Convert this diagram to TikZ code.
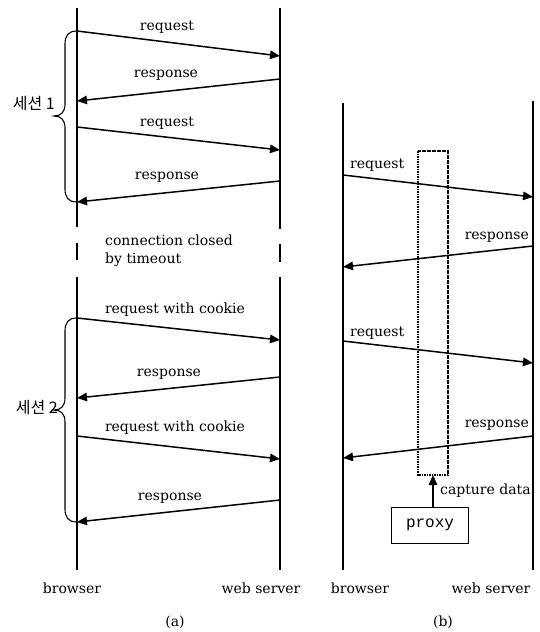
\documentclass[tikz,border=0pt]{standalone}
\usepackage{fontspec}
\setmainfont{DejaVu Serif}
\setmonofont{Liberation Mono}
\newfontfamily\kofont{Noto Sans CJK KR}
\usetikzlibrary{arrows.meta}
\begin{document}
\begin{tikzpicture}[x=1pt,y=-1pt,
  life/.style={line width=1.7pt},
  msg/.style={line width=1.5pt,-{Triangle[length=10pt,width=8.5pt]}},
  lbl/.style={font=\fontsize{14}{16}\selectfont,inner sep=0pt,anchor=base},
  lblL/.style={lbl,anchor=base west},
  lblR/.style={lbl,anchor=base east},
  brc/.style={line width=1.1pt},
  capbox/.style={line width=1.8pt,dash pattern=on 1.6pt off 0.9pt},
  proxybox/.style={draw,line width=0.8pt,minimum width=77pt,minimum height=36pt,font=\ttfamily\fontsize{16}{18}\selectfont}
]
\useasboundingbox (0,0) rectangle (539,632);
% ---------- (a) ----------
\coordinate (ab0) at (77,8);   \coordinate (ab1) at (77,227);
\coordinate (ab2) at (77,243); \coordinate (ab3) at (77,260);
\coordinate (ab4) at (77,277); \coordinate (ab5) at (77,570);
\coordinate (as0) at (280,8);  \coordinate (as1) at (280,229);
\coordinate (as2) at (280,244); \coordinate (as3) at (280,262);
\coordinate (as4) at (280,277); \coordinate (as5) at (280,570);
\draw[life] (ab0) -- (ab1) (ab2) -- (ab3) (ab4) -- (ab5);
\draw[life] (as0) -- (as1) (as2) -- (as3) (as4) -- (as5);
% messages
\coordinate (m1a) at (77,31);  \coordinate (m1b) at (280,56);
\coordinate (m2a) at (280,79); \coordinate (m2b) at (77,101);
\coordinate (m3a) at (77,127); \coordinate (m3b) at (280,150);
\coordinate (m4a) at (280,181); \coordinate (m4b) at (77,202);
\coordinate (m5a) at (77,318); \coordinate (m5b) at (280,340);
\coordinate (m6a) at (280,377); \coordinate (m6b) at (77,398);
\coordinate (m7a) at (77,436); \coordinate (m7b) at (280,459);
\coordinate (m8a) at (280,500); \coordinate (m8b) at (77,522);
\foreach \i in {1,...,8} {\draw[msg] (m\i a) -- (m\i b);}
\node[lbl] (l1) at (167,30) {request};
\node[lbl] (l2) at (166,77) {response};
\node[lbl] (l3) at (167,126) {request};
\node[lbl] (l4) at (167,179) {response};
\node[lbl] (l5) at (175,313) {request with cookie};
\node[lbl] (l6) at (169,376) {response};
\node[lbl] (l7) at (175,431) {request with cookie};
\node[lbl] (l8) at (170,500) {response};
\node[lblL] (cc1) at (105,245) {connection closed};
\node[lblL] (cc2) at (105,263) {by timeout};
% braces
\draw[brc] (m1a) .. controls (68,31) and (65,36) .. (65,44) -- (65,104)
  .. controls (65,112) and (61,116) .. (54,116)
  .. controls (61,116) and (65,120) .. (65,128) -- (65,189)
  .. controls (65,197) and (68,202) .. (m4b);
\draw[brc] (m5a) .. controls (68,318) and (65,323) .. (65,331) -- (65,398)
  .. controls (65,406) and (61,410) .. (54,410)
  .. controls (61,410) and (65,414) .. (65,422) -- (65,509)
  .. controls (65,517) and (68,522) .. (m8b);
\node[lblR,font=\kofont\fontsize{16}{18}\selectfont] (s1) at (55,109) {세션 1};
\node[lblR,font=\kofont\fontsize{16}{18}\selectfont] (s2) at (58,413) {세션 2};
\node[lbl] (bra) at (72,593) {browser};
\node[lbl] (sra) at (261,593) {web server};
\node[lbl] (capa) at (175,626) {(a)};
% ---------- (b) ----------
\coordinate (bb0) at (343,103); \coordinate (bb1) at (343,570);
\coordinate (bs0) at (533,101); \coordinate (bs1) at (533,570);
\draw[life] (bb0) -- (bb1);
\draw[life] (bs0) -- (bs1);
\coordinate (r1a) at (343,175); \coordinate (r1b) at (533,197);
\coordinate (r2a) at (533,246); \coordinate (r2b) at (343,267);
\coordinate (r3a) at (343,341); \coordinate (r3b) at (533,363);
\coordinate (r4a) at (533,436); \coordinate (r4b) at (343,458);
\foreach \i in {1,...,4} {\draw[msg] (r\i a) -- (r\i b);}
\node[lblL] (k1) at (350,168) {request};
\node[lblR] (k2) at (529,239) {response};
\node[lblL] (k3) at (350,336) {request};
\node[lblR] (k4) at (529,427) {response};
\draw[capbox] (418,151) rectangle (448,475);
\coordinate (capbot) at (433,475);
\node[proxybox] (proxy) at (430,525) {proxy};
\draw[msg] (proxy.north -| capbot) -- (capbot);
\node[lblL] (capt) at (440,494) {capture data};
\node[lbl] (brb) at (360,593) {browser};
\node[lbl] (srb) at (491,593) {web server};
\node[lbl] (capb) at (443,626) {(b)};
\end{tikzpicture}
\end{document}
